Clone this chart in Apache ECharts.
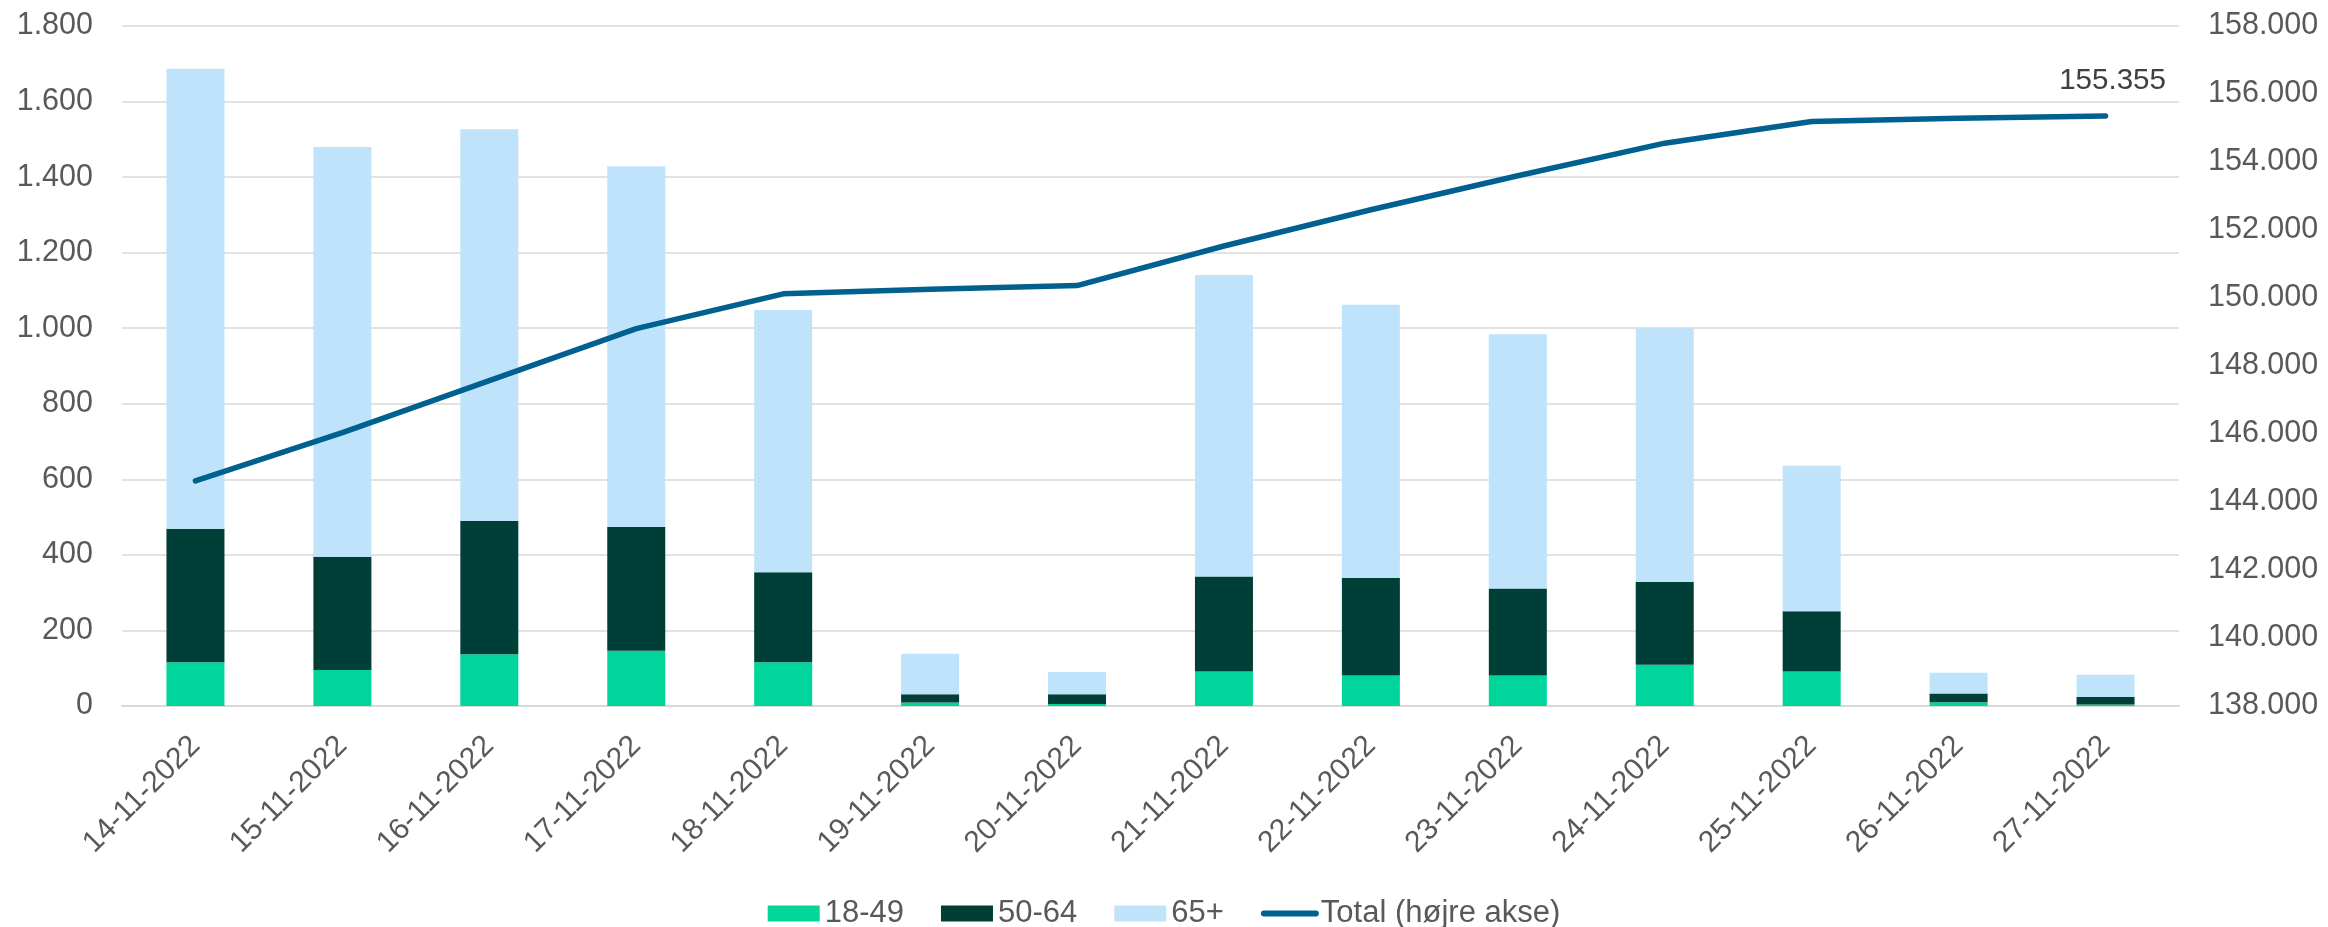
<!DOCTYPE html>
<html>
<head>
<meta charset="utf-8">
<script src="https://cdn.jsdelivr.net/npm/echarts@6/dist/echarts.min.js"></script>
<style>
html, body { margin: 0; padding: 0; background: #fff; }
#chart { width: 2328px; height: 927px; }
</style>
</head>
<body>
<div id="chart"></div>
<script>
const dates = ['14-11-2022', '15-11-2022', '16-11-2022', '17-11-2022', '18-11-2022', '19-11-2022', '20-11-2022',
  '21-11-2022', '22-11-2022', '23-11-2022', '24-11-2022', '25-11-2022', '26-11-2022', '27-11-2022']
const age1849 = [116, 95, 137, 146, 116, 9, 5, 91, 81, 81, 109, 91, 10, 4]
const age5064 = [353, 300, 353, 328, 238, 22, 26, 252, 258, 230, 219, 160, 23, 20]
const age65 = [1218, 1085, 1037, 955, 694, 107, 59, 798, 723, 673, 672, 385, 55, 59]
const total = [144622, 146040, 147570, 149100, 150122, 150257, 150365, 151530, 152595, 153595, 154554, 155189, 155284, 155355]

// danish thousands separator
function fmt(v) {
  return String(v).replace(/\B(?=(\d{3})+(?!\d))/g, '.')
}

const font = 'Liberation Sans, Arial, sans-serif'
const chart = echarts.init(document.getElementById('chart'))

chart.setOption({
  animation: false,
  textStyle: { fontFamily: font },
  grid: {
    top: 26,
    left: 122,
    right: 149,
    bottom: 221
  },
  legend: {
    top: 893,
    left: 'center',
    itemWidth: 52,
    itemHeight: 16,
    itemGap: 37,
    textStyle: { fontSize: 31, color: '#595959', fontFamily: font },
    data: [
      { name: '18-49', icon: 'rect' },
      { name: '50-64', icon: 'rect' },
      { name: '65+', icon: 'rect' },
      { name: 'Total (højre akse)', itemStyle: { opacity: 0 }, lineStyle: { width: 6, cap: 'round' } }
    ]
  },
  xAxis: {
    type: 'category',
    data: dates,
    axisTick: { show: false },
    axisLine: { lineStyle: { color: '#D9D9D9', width: 2 } },
    axisLabel: {
      rotate: 45,
      margin: 35,
      fontSize: 30,
      color: '#595959',
      interval: 0
    }
  },
  yAxis: [{
    type: 'value',
    min: 0,
    max: 1800,
    interval: 200,
    axisLine: { show: false },
    axisTick: { show: false },
    splitLine: { lineStyle: { color: '#D9D9D9', width: 1.5 } },
    axisLabel: {
      margin: 29,
      fontSize: 30.5,
      color: '#595959',
      formatter: fmt
    }
  }, {
    type: 'value',
    min: 138000,
    max: 158000,
    interval: 2000,
    axisLine: { show: false },
    axisTick: { show: false },
    splitLine: { show: false },
    axisLabel: {
      margin: 29,
      fontSize: 30.5,
      color: '#595959',
      formatter: fmt
    }
  }],
  series: [{
    name: '18-49',
    type: 'bar',
    stack: 'age',
    barWidth: 58,
    itemStyle: { color: '#00D69B' },
    data: age1849
  },
  {
    name: '50-64',
    type: 'bar',
    stack: 'age',
    barWidth: 58,
    itemStyle: { color: '#003F37' },
    data: age5064
  },
  {
    name: '65+',
    type: 'bar',
    stack: 'age',
    barWidth: 58,
    itemStyle: { color: '#BEE3FB' },
    data: age65
  },
  {
    name: 'Total (højre akse)',
    type: 'line',
    yAxisIndex: 1,
    symbol: 'none',
    lineStyle: { color: '#00608F', width: 5.5, cap: 'round', join: 'round' },
    itemStyle: { color: '#00608F' },
    endLabel: {
      show: true,
      align: 'center',
      verticalAlign: 'middle',
      offset: [-1, -35],
      fontSize: 29.5,
      color: '#404040',
      formatter: p => fmt(p.value)
    },
    data: total
  }]
})
</script>
</body>
</html>
